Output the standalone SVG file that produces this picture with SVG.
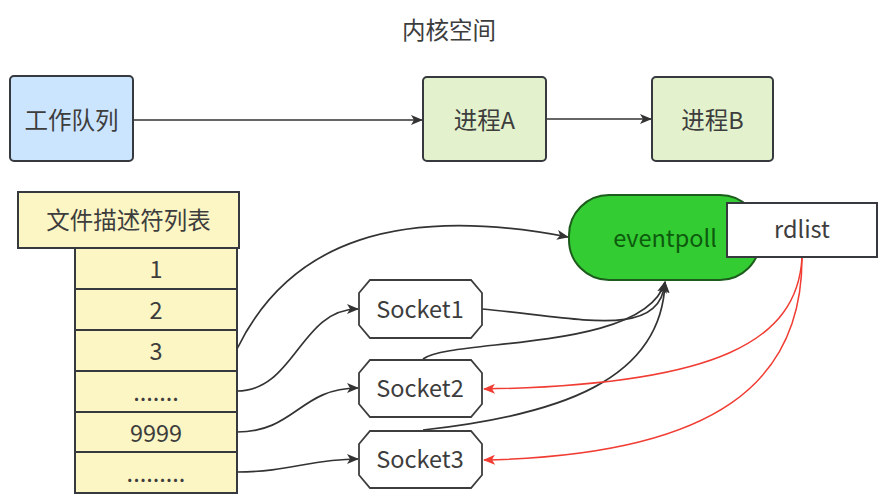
<svg xmlns="http://www.w3.org/2000/svg" width="893" height="500" viewBox="0 0 893 500">
<defs>
<marker id="ah" markerWidth="12" markerHeight="10" refX="11" refY="5" orient="auto" markerUnits="userSpaceOnUse"><path d="M0,0 L12,5 L0,10 L3,5 Z" fill="#333"/></marker>
<marker id="ahr" markerWidth="12" markerHeight="10" refX="11" refY="5" orient="auto" markerUnits="userSpaceOnUse"><path d="M0,0 L12,5 L0,10 L3,5 Z" fill="#f03c32"/></marker>
<style>
text{font-family:"Noto Sans CJK SC","Noto Sans",sans-serif;font-size:23.5px;fill:#3d3d3d;text-anchor:middle;dominant-baseline:central}
.box{stroke:#36393d;stroke-width:2}
.blue{fill:#cce5ff}
.green{fill:#e3f2cd}
.yel{fill:#fcf5c4}
.oct{fill:#fff;stroke:#3d3d3d;stroke-width:1.8}
.c{fill:none;stroke:#333;stroke-width:1.7}
.r{fill:none;stroke:#f03c32;stroke-width:1.5}
</style>
</defs>
<rect width="893" height="500" fill="#fff"/>
<text x="449" y="29">内核空间</text>

<g id="connectors">
<path class="c" d="M133,120 L422,120" marker-end="url(#ah)"/>
<path class="c" d="M546,119 L651,119" marker-end="url(#ah)"/>
<path class="c" d="M237,349 C290,240 400,205 568,237" marker-end="url(#ah)"/>
<path class="c" d="M237,391 C295,391 300,309 358,309" marker-end="url(#ah)"/>
<path class="c" d="M237,432 C295,432 300,388 358,388" marker-end="url(#ah)"/>
<path class="c" d="M237,472 C290,472 310,459 358,459" marker-end="url(#ah)"/>
<path class="c" d="M482,309 C580,318 660,340 665,282" marker-end="url(#ah)"/>
<path class="c" d="M423,359 C450,338 645,352 665,282" marker-end="url(#ah)"/>
<path class="c" d="M423,430 C560,415 662,380 665,282" marker-end="url(#ah)"/>
<path class="r" d="M802,258 C797,340 720,385 484,389" marker-end="url(#ahr)"/>
<path class="r" d="M802,258 C802,380 720,455 484,460" marker-end="url(#ahr)"/>
</g>

<g id="workqueue"><rect class="box blue" x="10" y="76" width="123" height="85" rx="4"/><text x="71.5" y="119">工作队列</text></g>
<g id="procA"><rect class="box green" x="423" y="77" width="123" height="84" rx="4"/><text x="484.5" y="119">进程A</text></g>
<g id="procB"><rect class="box green" x="652" y="77" width="121" height="84" rx="4"/><text x="712.5" y="119">进程B</text></g>

<g id="fdtable">
<rect class="box yel" x="18" y="192" width="221" height="56"/><text x="128.5" y="219">文件描述符列表</text>
<rect class="box yel" x="75" y="248" width="162" height="41"/><text x="156" y="268">1</text>
<rect class="box yel" x="75" y="289" width="162" height="41"/><text x="156" y="309">2</text>
<rect class="box yel" x="75" y="330" width="162" height="41"/><text x="156" y="350">3</text>
<rect class="box yel" x="75" y="371" width="162" height="41"/><text x="156" y="391">.......</text>
<rect class="box yel" x="75" y="412" width="162" height="40"/><text x="156" y="432">9999</text>
<rect class="box yel" x="75" y="452" width="162" height="41"/><text x="156" y="472">.........</text>
</g>

<g id="socket1"><polygon class="oct" points="370,280 471,280 482,293 482,325 471,338 370,338 359,325 359,293"/><text x="420" y="308">Socket1</text></g>
<g id="socket2"><polygon class="oct" points="370,360 471,360 482,373 482,404 471,417 370,417 359,404 359,373"/><text x="420" y="387">Socket2</text></g>
<g id="socket3"><polygon class="oct" points="370,431 471,431 482,444 482,475 471,488 370,488 359,475 359,444"/><text x="420" y="458">Socket3</text></g>

<g id="eventpoll"><rect x="569" y="195" width="191" height="85" rx="40" fill="#33cc33" stroke="#1d5c1d" stroke-width="2"/><text x="665" y="237" style="fill:#0d5a0d">eventpoll</text></g>
<g id="rdlist"><rect x="727" y="203" width="150" height="54" fill="#fff" stroke="#36393d" stroke-width="2"/><text x="802" y="228">rdlist</text></g>
</svg>
